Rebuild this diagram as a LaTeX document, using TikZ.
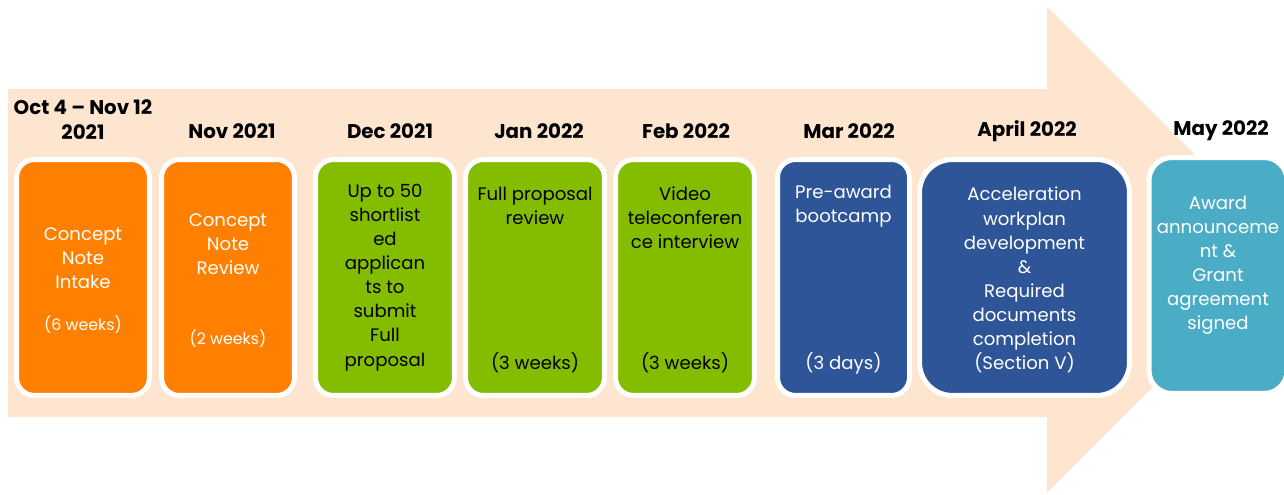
\documentclass[tikz,border=0pt]{standalone}
\usepackage{fontspec}
\setmainfont{Poppins}
\usepackage{xcolor}
\definecolor{bgarrow}{RGB}{253,229,208}
\definecolor{phaseorange}{RGB}{255,128,0}
\definecolor{phasegreen}{RGB}{132,188,0}
\definecolor{phaseblue}{RGB}{46,85,151}
\definecolor{phaseteal}{RGB}{75,172,198}

\begin{document}
\begin{tikzpicture}[
    x=0.02cm, y=-0.02cm,
    phasebox/.style={rectangle, draw=white, line width=0.1cm,
        rounded corners=0.36cm, minimum height=4.72cm, inner sep=0pt},
    orangebox/.style={phasebox, fill=phaseorange},
    greenbox/.style={phasebox, fill=phasegreen},
    bluebox/.style={phasebox, fill=phaseblue},
    tealbox/.style={phasebox, fill=phaseteal},
    header/.style={font=\fontsize{11.3}{14.2}\selectfont\bfseries,
        align=center, inner sep=0pt},
    bodytext/.style={font=\fontsize{10.3}{13.7}\selectfont,
        align=center, inner sep=0pt},
    smalltext/.style={font=\fontsize{9}{12}\selectfont, inner sep=0pt},
]
\useasboundingbox (0,0) rectangle (1284,494);
\clip (0,0) rectangle (1284,494);

% === BACKGROUND ARROW ===
\fill[bgarrow] (8,89) -- (1047,89) -- (1047,7) -- (1290,250)
    -- (1047,493) -- (1047,417) -- (8,417) -- cycle;

% === PHASE BOXES ===
\node[orangebox, minimum width=2.66cm] (b1) at (83,277.5) {};
\node[orangebox, minimum width=2.66cm] (b2) at (228,277.5) {};
\node[greenbox, minimum width=2.78cm] (b3) at (385,277.5) {};
\node[greenbox, minimum width=2.78cm] (b4) at (535,277.5) {};
\node[greenbox, minimum width=2.78cm] (b5) at (685,277.5) {};
\node[bluebox, minimum width=2.64cm] (b6) at (843.5,277.5) {};
\node[bluebox, minimum width=4.2cm, rounded corners=0.66cm] (b7) at (1024.5,277.5) {};
\node[tealbox, minimum width=2.76cm, rounded corners=0.46cm] (b8) at (1218,275.5) {};

% === HEADERS ===
\node[header] (h1) at (83,119.5) {Oct 4 -- Nov 12\\2021};
\node[header] (h2) at (232,131) {Nov 2021};
\node[header] (h3) at (390,131) {Dec 2021};
\node[header] (h4) at (539,131) {Jan 2022};
\node[header] (h5) at (686,131) {Feb 2022};
\node[header] (h6) at (849,131) {Mar 2022};
\node[header] (h7) at (1027,131) {April 2022};
\node[header] (h8) at (1221,131) {May 2022};

% === BOX TEXTS ===
% orange
\node[bodytext, white] (t1) at (83,258) {Concept\\Note\\Intake};
\node[smalltext, white] (d1) at (83,325) {(6 weeks)};
\node[bodytext, white] (t2) at (228,244) {Concept\\Note\\Review};
\node[smalltext, white] (d2) at (228,339) {(2 weeks)};

% green
\node[bodytext, black] (t3) at (385,277.5) {Up to 50\\shortlist\\ed\\applican\\ts to\\submit\\Full\\proposal};
\node[bodytext, black] (t4) at (535,206) {Full proposal\\review};
\node[bodytext, black] (d4) at (535,363) {(3 weeks)};
\node[bodytext, black] (t5) at (685,218) {Video\\teleconferen\\ce interview};
\node[bodytext, black] (d5) at (685,363) {(3 weeks)};

% blue
\node[bodytext, white] (t6) at (843.5,206) {Pre-award\\bootcamp};
\node[bodytext, white] (d6) at (843.5,363) {(3 days)};
\node[bodytext, white] (t7) at (1024.5,280) {Acceleration\\workplan\\development\\\&\\Required\\documents\\completion\\(Section V)};

% teal
\node[bodytext, white] (t8) at (1218,265.5) {Award\\announceme\\nt \&\\Grant\\agreement\\signed};

\end{tikzpicture}
\end{document}
